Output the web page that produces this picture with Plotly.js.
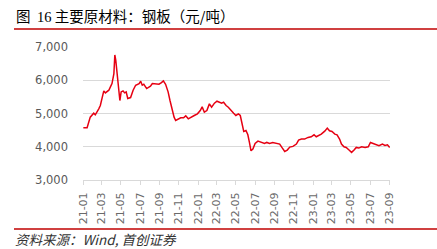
<!DOCTYPE html>
<html>
<head>
<meta charset="utf-8">
<script src="https://cdn.plot.ly/plotly-3.0.1.min.js"></script>
<style>html,body{margin:0;padding:0;background:#fff;}#chart{width:437px;height:249px;}</style>
</head>
<body>
<div id="chart"></div>
<script>
const dates = ["2021-01-02","2021-01-14","2021-01-24","2021-01-30","2021-02-04","2021-02-09","2021-02-15","2021-02-20","2021-02-25","2021-03-03","2021-03-08","2021-03-13","2021-03-18","2021-03-24","2021-03-29","2021-04-03","2021-04-09","2021-04-12","2021-04-15","2021-04-19","2021-04-25","2021-04-28","2021-05-02","2021-05-08","2021-05-13","2021-05-18","2021-05-23","2021-06-01","2021-06-09","2021-06-17","2021-06-28","2021-07-03","2021-07-08","2021-07-13","2021-07-22","2021-07-29","2021-08-03","2021-08-09","2021-08-19","2021-08-30","2021-09-07","2021-09-13","2021-09-20","2021-09-28","2021-10-04","2021-10-11","2021-10-17","2021-10-22","2021-10-30","2021-11-07","2021-11-16","2021-11-23","2021-12-01","2021-12-09","2021-12-20","2021-12-30","2022-01-08","2022-01-14","2022-01-21","2022-01-29","2022-02-06","2022-02-13","2022-02-22","2022-03-02","2022-03-09","2022-03-17","2022-03-23","2022-03-31","2022-04-07","2022-04-15","2022-04-24","2022-05-01","2022-05-09","2022-05-15","2022-05-20","2022-05-26","2022-06-02","2022-06-08","2022-06-13","2022-06-18","2022-06-24","2022-07-01","2022-07-10","2022-07-20","2022-07-31","2022-08-07","2022-08-16","2022-08-26","2022-09-06","2022-09-17","2022-09-24","2022-10-03","2022-10-11","2022-10-19","2022-10-29","2022-11-09","2022-11-16","2022-11-25","2022-12-05","2022-12-16","2022-12-26","2023-01-04","2023-01-11","2023-01-19","2023-01-27","2023-02-07","2023-02-15","2023-02-22","2023-03-02","2023-03-11","2023-03-18","2023-03-26","2023-04-01","2023-04-09","2023-04-16","2023-04-25","2023-05-03","2023-05-11","2023-05-18","2023-05-26","2023-06-04","2023-06-15","2023-06-25","2023-07-02","2023-07-10","2023-07-21","2023-07-29","2023-08-09","2023-08-17","2023-08-25","2023-09-01"];
const steelPrice = [4570,4570,4890,4940,5010,4960,5040,5140,5240,5500,5680,5620,5650,5700,5800,5900,6200,6760,6600,6200,5700,5390,5650,5680,5620,5650,5450,5480,5700,5850,5900,5970,5850,5880,5750,5800,5820,5900,5880,5880,5930,5980,5880,5650,5390,5090,4890,4790,4840,4870,4870,4930,4840,4890,4940,4990,5090,5200,5040,5090,5290,5190,5310,5370,5340,5310,5340,5240,5190,5090,5010,4940,4990,4940,4690,4460,4490,4360,4130,3880,3930,4100,4170,4130,4100,4130,4100,4130,4100,4080,3980,3860,3900,3990,4010,4080,4200,4230,4230,4280,4300,4360,4300,4330,4380,4470,4560,4480,4460,4380,4360,4230,4080,4000,3980,3900,3830,3900,3980,3960,4000,3980,4000,4130,4100,4060,4030,4080,4040,4060,3980];
const yTicks = [3000,4000,5000,6000,7000];
const titleText = '图&nbsp;&nbsp;<span style="font-family:Liberation Serif">16</span> 主要原材料：钢板（元/吨）';
const sourceText = "资料来源：Wind, 首创证券";

const L = 83, R = 390, T = 47, B = 180;
const px = x => (x - L) / (R - L);
const py = y => (B - y) / (B - T);

const trace = {
  x: dates, y: steelPrice, type: 'scatter', mode: 'lines',
  line: {color: '#e60012', width: 1.5}, hoverinfo: 'skip'
};
const layout = {
  width: 437, height: 249,
  margin: {l: L, r: 437 - R, t: T, b: 249 - B, pad: 0},
  paper_bgcolor: '#fff', plot_bgcolor: '#fff',
  showlegend: false,
  font: {family: 'DejaVu Sans, sans-serif', color: '#595959', size: 11},
  xaxis: {
    type: 'date', range: ['2021-01-01', '2023-09-02'],
    tick0: '2021-01-01', dtick: 'M2', tickformat: '%y-%m', tickangle: -90,
    showgrid: false, zeroline: false, showline: true, linecolor: '#d9d9d9', linewidth: 1,
    ticks: 'outside', ticklen: 4, tickcolor: '#d9d9d9', ticklabelstandoff: 3,
    tickfont: {size: 11, color: '#6a6a6a'}
  },
  yaxis: {
    range: [3000, 7000], tickvals: yTicks, tickformat: ',d',
    showgrid: true, gridcolor: '#d9d9d9', gridwidth: 1, zeroline: false,
    showline: false, ticks: '', ticklabelstandoff: 14,
    tickfont: {size: 11.5, color: '#595959'}
  },
  shapes: [
    {type: 'line', xref: 'paper', yref: 'paper', x0: px(14), x1: px(437), y0: py(29), y1: py(29), line: {color: '#c00000', width: 1.5}},
    {type: 'line', xref: 'paper', yref: 'paper', x0: px(14), x1: px(437), y0: py(229), y1: py(229), line: {color: '#c00000', width: 1.5}}
  ],
  annotations: [
    {text: titleText, xref: 'paper', yref: 'paper', x: px(14), y: py(15), xanchor: 'left', yanchor: 'middle', showarrow: false,
     font: {family: 'Noto Sans CJK SC, sans-serif', size: 14.5, color: '#000'}},
    {text: '<i>' + sourceText + '</i>', xref: 'paper', yref: 'paper', x: px(14), y: py(238.5), xanchor: 'left', yanchor: 'middle', showarrow: false,
     borderpad: 0, font: {family: 'Noto Sans CJK SC, sans-serif', size: 13.5, color: '#333'}}
  ]
};
Plotly.newPlot('chart', [trace], layout, {staticPlot: true, displayModeBar: false});
</script>
</body>
</html>
